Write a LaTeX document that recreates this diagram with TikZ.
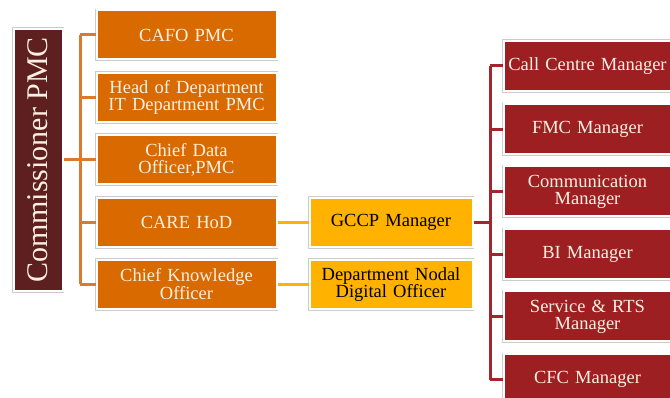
\documentclass[tikz,border=0pt]{standalone}
\usepackage{fontspec}
\setmainfont{Liberation Serif}
\definecolor{commbrown}{HTML}{5E1F1F}
\definecolor{boxorange}{HTML}{D86A00}
\definecolor{boxamber}{HTML}{FFB300}
\definecolor{boxred}{HTML}{9E1F22}
\definecolor{lineorange}{HTML}{DA7A30}
\definecolor{linered}{HTML}{A4262C}
\definecolor{cream}{HTML}{FBF0E2}
\tikzset{
  framed/.style={preaction={draw=gray!40, line width=3.6pt}, draw=white, line width=2pt,
    inner sep=2pt, align=center, font=\fontsize{18.5}{17}\selectfont},
  orangebox/.style={framed, fill=boxorange, text=cream, minimum width=180pt, minimum height=49pt, text width=172pt},
  amberbox/.style={framed, fill=boxamber, text=black, minimum width=163pt, minimum height=49pt, text width=158pt},
  redbox/.style={framed, fill=boxred, text=cream, minimum width=162pt, minimum height=50pt, text width=164pt},
  commbox/.style={framed, fill=commbrown, text=cream, minimum width=49pt, minimum height=262pt},
  orangeline/.style={draw=lineorange, line width=3pt},
  amberline/.style={draw=boxamber, line width=3pt},
  redline/.style={draw=linered, line width=3pt},
}
\begin{document}
\begin{tikzpicture}[x=1pt, y=-1pt]
\useasboundingbox (0,0) rectangle (670,398);
\clip (0,0) rectangle (670,398);
% left column
\node[commbox] (comm) at (38,160) {};
\node[rotate=90, text=cream, font=\fontsize{30}{30}\selectfont] (commtext) at (38,160) {Commissioner PMC};
\node[orangebox] (o1) at (186.5,35) {CAFO PMC};
\node[orangebox] (o2) at (186.5,97.5) {Head of Department\\IT Department PMC};
\node[orangebox] (o3) at (186.5,159.5) {Chief Data\\Officer,PMC};
\node[orangebox] (o4) at (186.5,222.5) {CARE HoD};
\node[orangebox] (o5) at (186.5,284.5) {Chief Knowledge\\Officer};
% middle
\node[amberbox] (a1) at (391,222.5) {GCCP Manager};
\node[amberbox] (a2) at (391,284.5) {Department Nodal\\Digital Officer};
% right column
\node[redbox] (r1) at (587.5,66) {Call Centre Manager};
\node[redbox] (r2) at (587.5,129.5) {FMC Manager};
\node[redbox] (r3) at (587.5,191.5) {Communication\\Manager};
\node[redbox] (r4) at (587.5,254.5) {BI Manager};
\node[redbox] (r5) at (587.5,316.5) {Service \& RTS\\Manager};
\node[redbox] (r6) at (587.5,379.5) {CFC Manager};
% connectors left
\coordinate (lbus) at (80,160);
\draw[orangeline] (comm.east |- lbus) -- (lbus);
\draw[orangeline] (lbus |- o1) -- (lbus |- o5);
\foreach \b in {o1,o2,o3,o4,o5} {
  \draw[orangeline] (lbus |- \b) -- (\b.west);
}
% connectors middle
\draw[amberline] (o4.east) -- (a1.west);
\draw[amberline] (o5.east) -- (a2.west);
% connectors right
\coordinate (rbus) at (490,222.5);
\draw[redline] (a1.east) -- (rbus);
\draw[redline] (rbus |- r1) -- (rbus |- r6);
\foreach \b in {r1,r2,r3,r4,r5,r6} {
  \draw[redline] (rbus |- \b) -- (\b.west);
}
\end{tikzpicture}
\end{document}
